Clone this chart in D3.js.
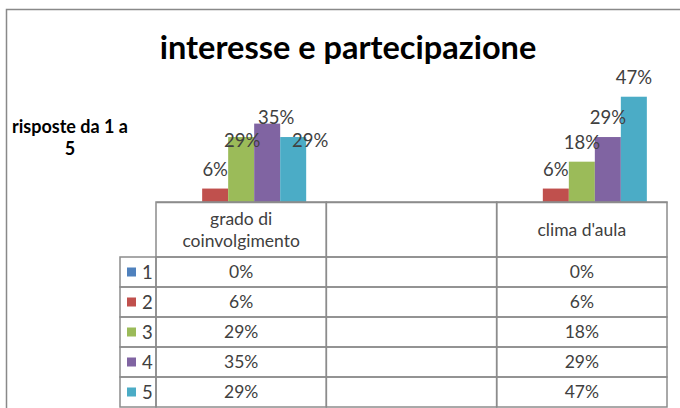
<html>
<head>
<meta charset="utf-8">
<script src="https://d3js.org/d3.v7.min.js"></script>
<style>
body {
	margin: 0;
	background: #fff;
}
svg {
	display: block;
	font-family: Lato, "Open Sans", sans-serif;
}
</style>
</head>
<body>

<svg id="chart" width="680" height="408"></svg>

<script>

var title = "interesse e partecipazione"
var yTitle = ["risposte da 1 a", "5"]

var categories = ["grado di coinvolgimento", "", "clima d'aula"]
var series = ["1", "2", "3", "4", "5"]

// percent of answers per rating, one array per category
var grado = [0, 6, 29, 35, 29]
var vuoto = [null, null, null, null, null]
var clima = [0, 6, 18, 29, 47]
var columns = [grado, vuoto, clima]

var colors = ["#4F81BD", "#C0504D", "#9BBB59", "#8064A2", "#4BACC6"]

// hand moved data labels (as in the spreadsheet), offsets from the default spot
var labelNudge = {
	"grado di coinvolgimento|3": [1, 23],
	"grado di coinvolgimento|4": [9, 13],
	"grado di coinvolgimento|5": [17, 23]
}

var svg = d3.select("#chart"),
	plot = {left: 156, right: 667, top: 90, bottom: 202},
	headerH = 55,
	rowH = 30,
	keyLeft = 120,
	grid = "#8c8c8c",
	txt = "#404040"

var x = d3.scaleBand()
	.domain(categories)
	.range([plot.left, plot.right])

var x1 = d3.scaleBand()
	.domain(series)
	.range([0, x.bandwidth()])
	.paddingOuter(0.775)

var y = d3.scaleLinear()
	.domain([0, 50])
	.range([plot.bottom, plot.top])

var rows = d3.scaleBand()
	.domain(series)
	.range([plot.bottom + headerH, plot.bottom + headerH + rowH * series.length])

// chart area border (runs off the picture at right and bottom)
svg.append("rect")
	.attr("x", 6.5).attr("y", 9.5)
	.attr("width", 700).attr("height", 420)
	.attr("fill", "none")
	.attr("stroke", "#898989")
	.attr("stroke-width", 1.5)

svg.append("text")
	.attr("x", 348).attr("y", 59)
	.attr("text-anchor", "middle")
	.attr("font-size", 32.5)
	.attr("font-weight", "bold")
	.attr("fill", "#000")
	.text(title)

svg.append("g").selectAll("text")
	.data(yTitle)
	.enter().append("text")
		.attr("x", 70)
		.attr("y", (d, i) => 133 + i * 22)
		.attr("text-anchor", "middle")
		.attr("font-size", 18)
		.attr("font-weight", "bold")
		.attr("fill", "#000")
		.text(d => d)

// bars
var cells = []
columns.forEach((col, i) => col.forEach((v, j) => {
	if (v != null) cells.push({cat: categories[i], s: series[j], v: v, c: colors[j]})
}))

svg.append("g").selectAll("rect")
	.data(cells)
	.enter().append("rect")
		.attr("x", d => x(d.cat) + x1(d.s))
		.attr("y", d => y(d.v))
		.attr("width", x1.bandwidth())
		.attr("height", d => y(0) - y(d.v))
		.attr("fill", d => d.c)

svg.append("g").selectAll("text")
	.data(cells.filter(d => d.v > 0))
	.enter().append("text")
		.attr("x", d => x(d.cat) + x1(d.s) + x1.bandwidth() / 2 + (labelNudge[d.cat + "|" + d.s] || [0, 0])[0])
		.attr("y", d => y(d.v) - 13 + (labelNudge[d.cat + "|" + d.s] || [0, 0])[1])
		.attr("text-anchor", "middle")
		.attr("font-size", 18.5)
		.attr("fill", txt)
		.text(d => d.v + "%")

// data table under the plot
var table = svg.append("g")
	.attr("fill", "none")
	.attr("stroke", grid)
	.attr("stroke-width", 1.5)

table.selectAll(".head")
	.data(categories)
	.enter().append("rect")
		.attr("x", d => x(d))
		.attr("y", plot.bottom)
		.attr("width", x.bandwidth())
		.attr("height", headerH)

series.forEach(s => {
	table.append("rect")
		.attr("x", keyLeft).attr("y", rows(s))
		.attr("width", plot.left - keyLeft).attr("height", rows.bandwidth())
	categories.forEach(c => {
		table.append("rect")
			.attr("x", x(c)).attr("y", rows(s))
			.attr("width", x.bandwidth()).attr("height", rows.bandwidth())
	})
})

// baseline as the x axis
svg.append("g")
	.attr("transform", `translate(0,${plot.bottom})`)
	.call(d3.axisBottom(x).tickSize(0).tickSizeOuter(0).tickFormat(""))
	.call(g => g.select(".domain").attr("stroke", grid).attr("stroke-width", 1.5))

function wrap(str, maxW, size) {
	var words = str.split(" "), lines = [], cur = ""
	var probe = svg.append("text").attr("font-size", size)
	words.forEach(w => {
		var t = cur ? cur + " " + w : w
		probe.text(t)
		if (cur && probe.node().getComputedTextLength() > maxW) {
			lines.push(cur)
			cur = w
		} else cur = t
	})
	probe.remove()
	if (cur) lines.push(cur)
	return lines
}

var fs = 17.5
categories.forEach(c => {
	var lines = wrap(c, x.bandwidth() - 24, fs)
	var mid = plot.bottom + headerH / 2
	lines.forEach((l, i) => {
		svg.append("text")
			.attr("x", x(c) + x.bandwidth() / 2)
			.attr("y", mid + (i - (lines.length - 1) / 2) * 22 + 6)
			.attr("text-anchor", "middle")
			.attr("font-size", fs)
			.attr("fill", txt)
			.text(l)
	})
})

series.forEach((s, j) => {
	var mid = rows(s) + rows.bandwidth() / 2
	svg.append("rect")
		.attr("x", 127).attr("y", mid - 4.5)
		.attr("width", 9).attr("height", 9)
		.attr("fill", colors[j])
	svg.append("text")
		.attr("x", 142).attr("y", mid + 6.5)
		.attr("font-size", fs + 1)
		.attr("fill", txt)
		.text(s)
	columns.forEach((col, i) => {
		if (col[j] == null) return
		svg.append("text")
			.attr("x", x(categories[i]) + x.bandwidth() / 2)
			.attr("y", mid + 6)
			.attr("text-anchor", "middle")
			.attr("font-size", fs)
			.attr("fill", txt)
			.text(col[j] + "%")
	})
})

</script>
</body>
</html>
